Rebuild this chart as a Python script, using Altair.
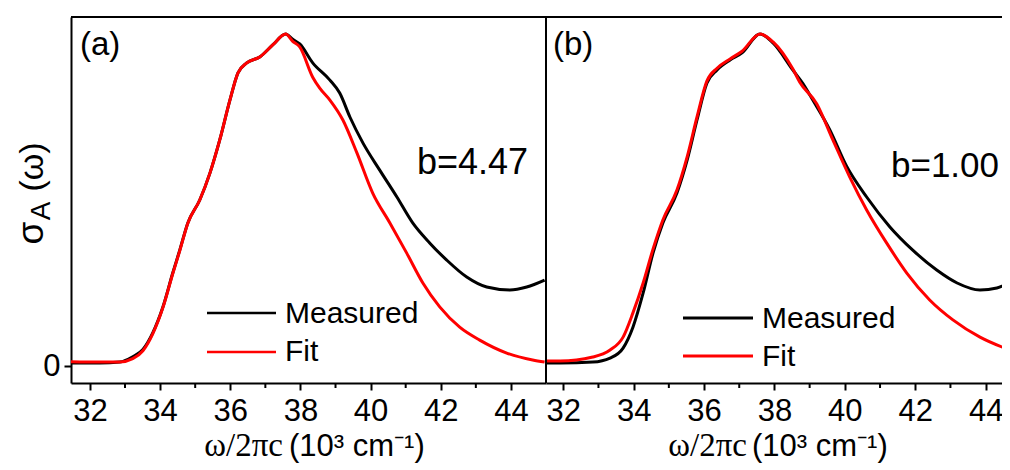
import altair as alt
import pandas as pd

# ---------------- data ----------------
# panel (a), b = 4.47
a_meas_x = [31.46, 32.28, 32.85, 33.22, 33.51, 33.79, 34.08, 34.36, 34.56, 34.79, 35.13, 35.42,
            35.70, 35.99, 36.22, 36.47, 36.84, 37.21, 37.58, 37.78, 37.98, 38.35, 38.84, 39.12,
            39.41, 39.78, 40.26, 40.75, 41.20, 41.69, 42.17, 42.74, 43.31, 43.97, 44.45, 44.96]
a_meas_y = [0.009, 0.009, 0.012, 0.028, 0.050, 0.100, 0.178, 0.280, 0.349, 0.431, 0.500, 0.581,
            0.681, 0.801, 0.883, 0.913, 0.931, 0.967, 1.000, 0.984, 0.970, 0.913, 0.861, 0.822,
            0.750, 0.672, 0.590, 0.509, 0.431, 0.370, 0.319, 0.268, 0.238, 0.229, 0.238, 0.259]
a_fit_x = [31.46, 32.28, 32.85, 33.22, 33.51, 33.79, 34.08, 34.36, 34.56, 34.79, 35.13, 35.42,
           35.70, 35.99, 36.22, 36.47, 36.84, 37.21, 37.58, 37.78, 37.98, 38.35, 38.55, 38.84,
           39.21, 39.61, 40.06, 40.55, 41.03, 41.49, 41.97, 42.54, 43.11, 43.88, 44.62, 44.96]
a_fit_y = [0.013, 0.012, 0.012, 0.022, 0.046, 0.097, 0.176, 0.278, 0.347, 0.430, 0.500, 0.581,
           0.681, 0.801, 0.883, 0.913, 0.931, 0.967, 1.000, 0.978, 0.961, 0.870, 0.837, 0.801,
           0.741, 0.642, 0.521, 0.431, 0.340, 0.250, 0.178, 0.117, 0.078, 0.039, 0.018, 0.012]

# panel (b), b = 1.00
b_meas_x = [31.51, 31.91, 32.84, 33.33, 33.70, 33.98, 34.27, 34.55, 34.83, 35.23, 35.52, 35.80,
            36.08, 36.37, 36.74, 37.08, 37.59, 37.96, 38.52, 38.80, 39.09, 39.57, 40.05, 40.62,
            41.28, 41.93, 42.61, 43.19, 43.84, 44.32, 44.69]
b_meas_y = [0.009, 0.009, 0.012, 0.024, 0.054, 0.117, 0.220, 0.340, 0.431, 0.521, 0.620, 0.741,
            0.852, 0.892, 0.922, 0.943, 1.000, 0.973, 0.892, 0.852, 0.801, 0.712, 0.602, 0.509,
            0.419, 0.349, 0.289, 0.250, 0.229, 0.235, 0.253]
b_fit_x = [31.51, 31.91, 32.84, 33.33, 33.70, 33.98, 34.27, 34.55, 34.83, 35.23, 35.52, 35.80,
           36.08, 36.37, 36.74, 37.08, 37.59, 37.96, 38.52, 38.72, 39.20, 39.66, 40.14, 40.62,
           41.19, 41.76, 42.41, 43.07, 43.84, 44.69]
b_fit_y = [0.015, 0.015, 0.027, 0.048, 0.087, 0.160, 0.250, 0.352, 0.440, 0.530, 0.630, 0.750,
           0.858, 0.897, 0.925, 0.948, 1.000, 0.976, 0.895, 0.855, 0.790, 0.681, 0.569, 0.470,
           0.370, 0.280, 0.199, 0.139, 0.087, 0.048]

major_ticks = [32, 34, 36, 38, 40, 42, 44]
minor_ticks = [33, 35, 37, 39, 41, 43]
series_names = ["Measured", "Fit"]
panel_labels = ["(a)", "(b)"]
b_labels = ["b=4.47", "b=1.00"]

# ---------------- layout ----------------
W_A = 475
W = 931
H = 366
FONT = "Liberation Sans"
SERIF = "Liberation Serif"
BLACK = "#000000"
RED = "#ff0000"
LW = 3

y_enc = alt.Y("y:Q",
              scale=alt.Scale(domain=[-0.0512, 1.0512], nice=False, zero=False),
              axis=alt.Axis(values=[0], title=None, tickSize=7, tickWidth=2, domainWidth=2,
                            labelFontSize=31, labelPadding=4, labelFont=FONT,
                            domainColor=BLACK, tickColor=BLACK, labelColor=BLACK))


def x_enc(domain, rng):
    return alt.X("x:Q",
                 scale=alt.Scale(domain=domain, range=rng, nice=False, zero=False),
                 axis=alt.Axis(values=major_ticks, orient="bottom", title=None, format="d",
                               tickSize=7, tickWidth=2, domainWidth=2, labelFontSize=31,
                               labelPadding=6, labelFont=FONT, labelOverlap=False,
                               domainColor=BLACK, tickColor=BLACK, labelColor=BLACK))


def panel(mx, my, fx, fy, domain, rng):
    xe = x_enc(domain, rng)
    meas = alt.Chart(pd.DataFrame({"x": mx, "y": my})).mark_line(
        color=BLACK, strokeWidth=LW, interpolate="monotone", clip=True).encode(x=xe, y=y_enc)
    fit = alt.Chart(pd.DataFrame({"x": fx, "y": fy})).mark_line(
        color=RED, strokeWidth=LW, interpolate="monotone", clip=True).encode(x=xe, y=y_enc)
    minor = alt.Chart(pd.DataFrame({"x": minor_ticks})).mark_rule(
        color=BLACK, strokeWidth=2).encode(x=xe, y=alt.value(H), y2=alt.value(H + 5))
    return alt.layer(meas, fit, minor)


pa = panel(a_meas_x, a_meas_y, a_fit_x, a_fit_y, [31.46, 45.0], [0, W_A])
pb = panel(b_meas_x, b_meas_y, b_fit_x, b_fit_y, [31.51, 44.465], [W_A, W])

one = pd.DataFrame({"d": [0]})


def rule(x, x2, y, y2, color=BLACK, sw=2):
    return alt.Chart(one).mark_rule(color=color, strokeWidth=sw).encode(
        x=alt.value(x), x2=alt.value(x2), y=alt.value(y), y2=alt.value(y2))


def text(t, x, y, size, align="left", baseline="middle", font=FONT, angle=0):
    kw = dict(align=align, baseline=baseline, fontSize=size, font=font, color=BLACK)
    if angle:
        kw["angle"] = angle
    return alt.Chart(pd.DataFrame({"t": [t]})).mark_text(**kw).encode(
        text="t:N", x=alt.value(x), y=alt.value(y))


frame = [
    rule(0, W, 0, 0),          # top border
    rule(W_A, W_A, 0, H),      # divider between panels
]

legend = [
    rule(136, 205, 296, 296, BLACK, 2.4),
    rule(136, 205, 335, 335, RED, 2.4),
    text(series_names[0], 214, 297, 30),
    text(series_names[1], 214, 335, 30),
    rule(612, 682, 301, 301, BLACK, 3),
    rule(612, 682, 339, 339, RED, 3),
    text(series_names[0], 691, 302, 30),
    text(series_names[1], 691, 340, 30),
]

labels = [
    text(panel_labels[0], 9, 28, 33),
    text(panel_labels[1], 482, 28, 33),
    text(b_labels[0], 346, 146, 36),
    text(b_labels[1], 820, 149, 35),
]

xtitles = [
    text("ω/2πc", 212, 439, 33, align="right", baseline="alphabetic", font=SERIF),
    text("(10³ cm⁻¹)", 218, 439, 31, align="left", baseline="alphabetic"),
    text("ω/2πc", 676, 439, 33, align="right", baseline="alphabetic", font=SERIF),
    text("(10³ cm⁻¹)", 681, 439, 31, align="left", baseline="alphabetic"),
]

ytitle = [
    text("σ", -28, 216, 37, align="center", baseline="alphabetic", angle=270),
    text("A", -21, 194, 28, align="center", baseline="alphabetic", angle=270),
    text("(ω)", -28, 150, 34, align="center", baseline="alphabetic", angle=270),
]

chart = alt.layer(pa, pb, *frame, *legend, *labels, *xtitles, *ytitle).resolve_scale(
    x="independent"
).properties(
    width=W, height=H,
    autosize=alt.AutoSizeParams(type="none"),
    padding={"left": 63, "top": 9, "right": 0, "bottom": 81},
).configure_view(stroke=None).configure_axis(grid=False)

chart.save("out.html", embed_options={"renderer": "svg", "actions": False})
